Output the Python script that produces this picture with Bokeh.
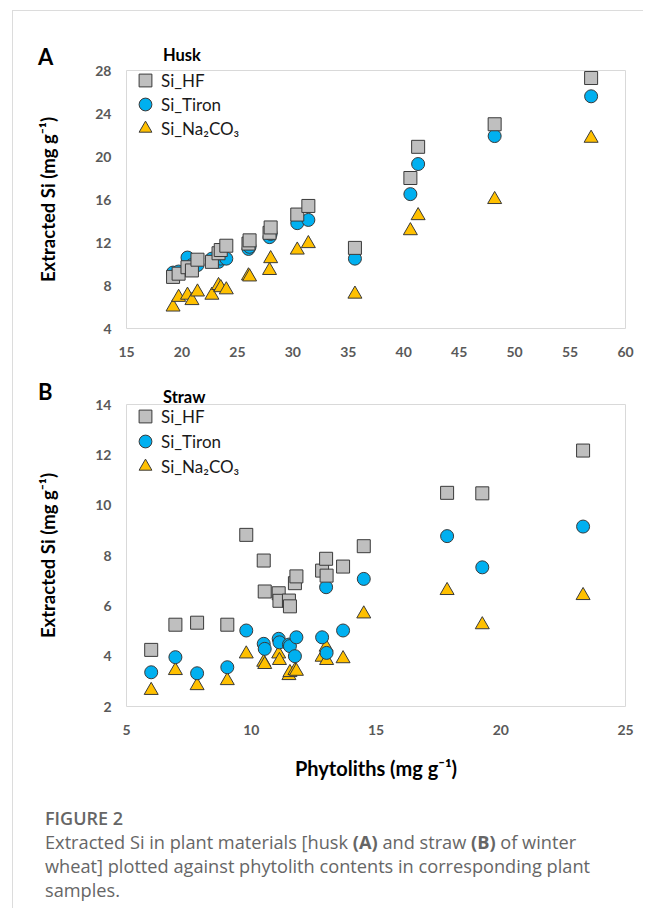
from bokeh.plotting import figure
from bokeh.layouts import column
from bokeh.models import Div, Range1d, FixedTicker, Legend, LegendItem
from bokeh.embed import file_html
from bokeh.resources import INLINE

# ---------------- data ----------------
# Panel A: husk
husk_phyto = [19.2, 19.7, 20.5, 20.9, 21.4, 22.7, 23.3, 23.5, 24.0, 26.0, 26.1, 27.9, 28.0, 30.4, 31.4, 35.6, 40.6, 41.3, 48.2, 56.9]
husk_si_hf = [8.8, 9.1, 9.7, 9.4, 10.4, 10.2, 11.0, 11.3, 11.7, 11.9, 12.2, 12.9, 13.4, 14.6, 15.4, 11.5, 18.0, 20.9, 23.0, 27.3]
husk_si_tiron = [9.2, 9.3, 10.6, 9.9, 9.9, 10.5, 10.2, 10.5, 10.5, 11.4, 11.6, 12.5, 12.8, 13.8, 14.1, 10.5, 16.5, 19.3, 21.9, 25.6]
husk_si_na2co3 = [6.0, 6.9, 7.1, 6.6, 7.4, 7.1, 8.0, 7.8, 7.6, 8.9, 8.8, 9.4, 10.5, 11.3, 11.9, 7.2, 13.1, 14.5, 16.0, 21.7]

# Panel B: straw
straw_phyto = [5.99, 6.96, 7.83, 9.04, 9.80, 10.50, 10.54, 11.10, 11.13, 11.51, 11.55, 11.75, 11.81, 12.84, 13.00, 13.02, 13.68, 14.51, 17.85, 19.26, 23.30]
straw_si_hf = [4.25, 5.25, 5.33, 5.25, 8.82, 7.80, 6.57, 6.50, 6.20, 6.21, 5.98, 6.90, 7.17, 7.40, 7.87, 7.20, 7.56, 8.37, 10.49, 10.47, 12.17]
straw_si_tiron = [3.36, 3.96, 3.32, 3.56, 5.02, 4.49, 4.29, 4.69, 4.55, 4.46, 4.40, 4.00, 4.75, 4.75, 6.74, 4.13, 5.02, 7.07, 8.77, 7.53, 9.15]
straw_si_na2co3 = [2.64, 3.43, 2.83, 3.03, 4.09, 3.76, 3.67, 4.09, 3.83, 3.23, 3.35, 3.43, 3.40, 3.96, 4.36, 3.83, 3.90, 5.68, 6.61, 5.25, 6.41]

husk_xticks = [15, 20, 25, 30, 35, 40, 45, 50, 55, 60]
husk_yticks = [4, 8, 12, 16, 20, 24, 28]
straw_xticks = [5, 10, 15, 20, 25]
straw_yticks = [2, 4, 6, 8, 10, 12, 14]

series_labels = ["Si_HF", "Si_Tiron", "Si_Na\u2082CO\u2083"]
y_title = "Extracted Si (mg g\u207b\u00b9)"
x_title = "Phytoliths (mg g\u207b\u00b9)"
panel_letters = ["A", "B"]
panel_titles = ["Husk", "Straw"]
caption_head = "FIGURE 2"
caption_lines = [
    'Extracted Si in plant materials [husk <b>(A)</b> and straw <b>(B)</b> of winter',
    'wheat] plotted against phytolith contents in corresponding plant',
    'samples.',
]

FONT = "Lato"
C_HF, C_TI, C_NA = "#BFBFBF", "#00B0F0", "#FFC000"
EDGE = "#3a3a3a"
GLYPH = 32


def make_panel(xs, hf, ti, na, xr, yr, xt, yt, w, h, borders,
               legend_vy, xlab=False):
    bl, br, bt, bb = borders
    p = figure(width=w, height=h, output_backend="svg", toolbar_location=None,
               x_range=Range1d(*xr), y_range=Range1d(*yr),
               min_border_left=bl, min_border_right=br,
               min_border_top=bt, min_border_bottom=bb)
    p.background_fill_color = "white"
    p.border_fill_alpha = 0
    p.outline_line_color = "#D9D9D9"
    p.outline_line_width = 1
    p.xgrid.visible = False
    p.ygrid.visible = False
    for ax in (p.xaxis[0], p.yaxis[0]):
        ax.axis_line_color = None
        ax.major_tick_line_color = None
        ax.minor_tick_line_color = None
        ax.major_tick_out = 0
        ax.major_tick_in = 0
        ax.minor_tick_out = 0
        ax.minor_tick_in = 0
        ax.major_label_text_font = FONT
        ax.major_label_text_font_style = "bold"
        ax.major_label_text_font_size = "14px"
        ax.major_label_text_color = "#595959"
        ax.major_label_standoff = 15
        ax.axis_label_text_font = FONT
        ax.axis_label_text_font_style = "bold"
        ax.axis_label_text_color = "black"
    p.xaxis[0].ticker = FixedTicker(ticks=xt)
    p.xaxis[0].major_label_standoff = 18
    p.yaxis[0].ticker = FixedTicker(ticks=yt)
    p.yaxis[0].axis_label = y_title
    p.yaxis[0].axis_label_text_font_size = "18.5px"
    p.yaxis[0].axis_label_standoff = 33
    if xlab:
        p.xaxis[0].axis_label = x_title
        p.xaxis[0].axis_label_text_font_size = "20px"
        p.xaxis[0].axis_label_standoff = 18

    r_na = p.scatter(xs, na, marker="triangle", size=14, fill_color=C_NA,
                     line_color=EDGE, line_width=1)
    r_ti = p.scatter(xs, ti, marker="circle", size=13, fill_color=C_TI,
                     line_color=EDGE, line_width=1)
    r_hf = p.scatter(xs, hf, marker="square", size=13, fill_color=C_HF,
                     line_color=EDGE, line_width=1)

    # one single-entry legend per series so each row can be placed exactly
    for label, rend, vy in zip(series_labels, [r_hf, r_ti, r_na], legend_vy):
        leg = Legend(items=[LegendItem(label=label, renderers=[rend])],
                     location=(3, vy), border_line_color=None,
                     background_fill_alpha=0, padding=0, margin=0,
                     spacing=0, glyph_width=GLYPH, glyph_height=GLYPH,
                     label_standoff=0,
                     label_text_font=FONT, label_text_font_size="17px",
                     label_text_color="#1a1a1a")
        p.add_layout(leg)
    return p


def header(letter, title, height, letter_top, title_top):
    html = (
        f'<div style="position:relative;width:620px;height:{height}px;'
        f'overflow:visible;font-family:Lato,sans-serif;color:black;font-weight:bold;">'
        f'<div style="position:absolute;left:25px;top:{letter_top}px;'
        f'font-size:22px;line-height:26px;">{letter}</div>'
        f'<div style="position:absolute;left:150px;top:{title_top}px;'
        f'font-size:16.5px;line-height:20px;">{title}</div>'
        f'</div>')
    return Div(text=html, width=630, height=height, margin=0,
               styles={"overflow": "visible", "z-index": "2"})


# Panel A: frame x 126..625, y 70..328 (page pixels)
hA = header(panel_letters[0], panel_titles[0], 49, 33, 34)
pA = make_panel(husk_phyto, husk_si_hf, husk_si_tiron, husk_si_na2co3,
                (15, 60), (4, 28), husk_xticks, husk_yticks,
                w=630, h=306, borders=(113, 18, 10, 38),
                legend_vy=[232, 208, 184])

# Panel B: frame x 126..625, y 404..706
hB = header(panel_letters[1], panel_titles[1], 28, 13, 21)
pB = make_panel(straw_phyto, straw_si_hf, straw_si_tiron, straw_si_na2co3,
                (5, 25), (2, 14), straw_xticks, straw_yticks,
                w=630, h=396, borders=(113, 18, 10, 84),
                legend_vy=[274, 249, 224], xlab=True)

cap_html = (
    '<div style="font-family:\'Open Sans\',sans-serif;color:#666666;'
    'font-size:18.2px;line-height:24px;white-space:nowrap;">'
    f'<div style="font-weight:600;font-size:18px;">{caption_head}</div>'
    + ''.join(f'<div>{ln}</div>' for ln in caption_lines)
    + '</div>')
caption = Div(text=cap_html, width=620, height=118, margin=0,
              styles={"padding-left": "32px", "padding-top": "16px"})

layout = column(hA, pA, hB, pB, caption, spacing=0,
                styles={"border-top": "1px solid #dcdcdc",
                        "border-left": "1px solid #dcdcdc",
                        "margin-left": "12px", "margin-top": "10px"})

open("out.html", "w").write(file_html(layout, INLINE))
